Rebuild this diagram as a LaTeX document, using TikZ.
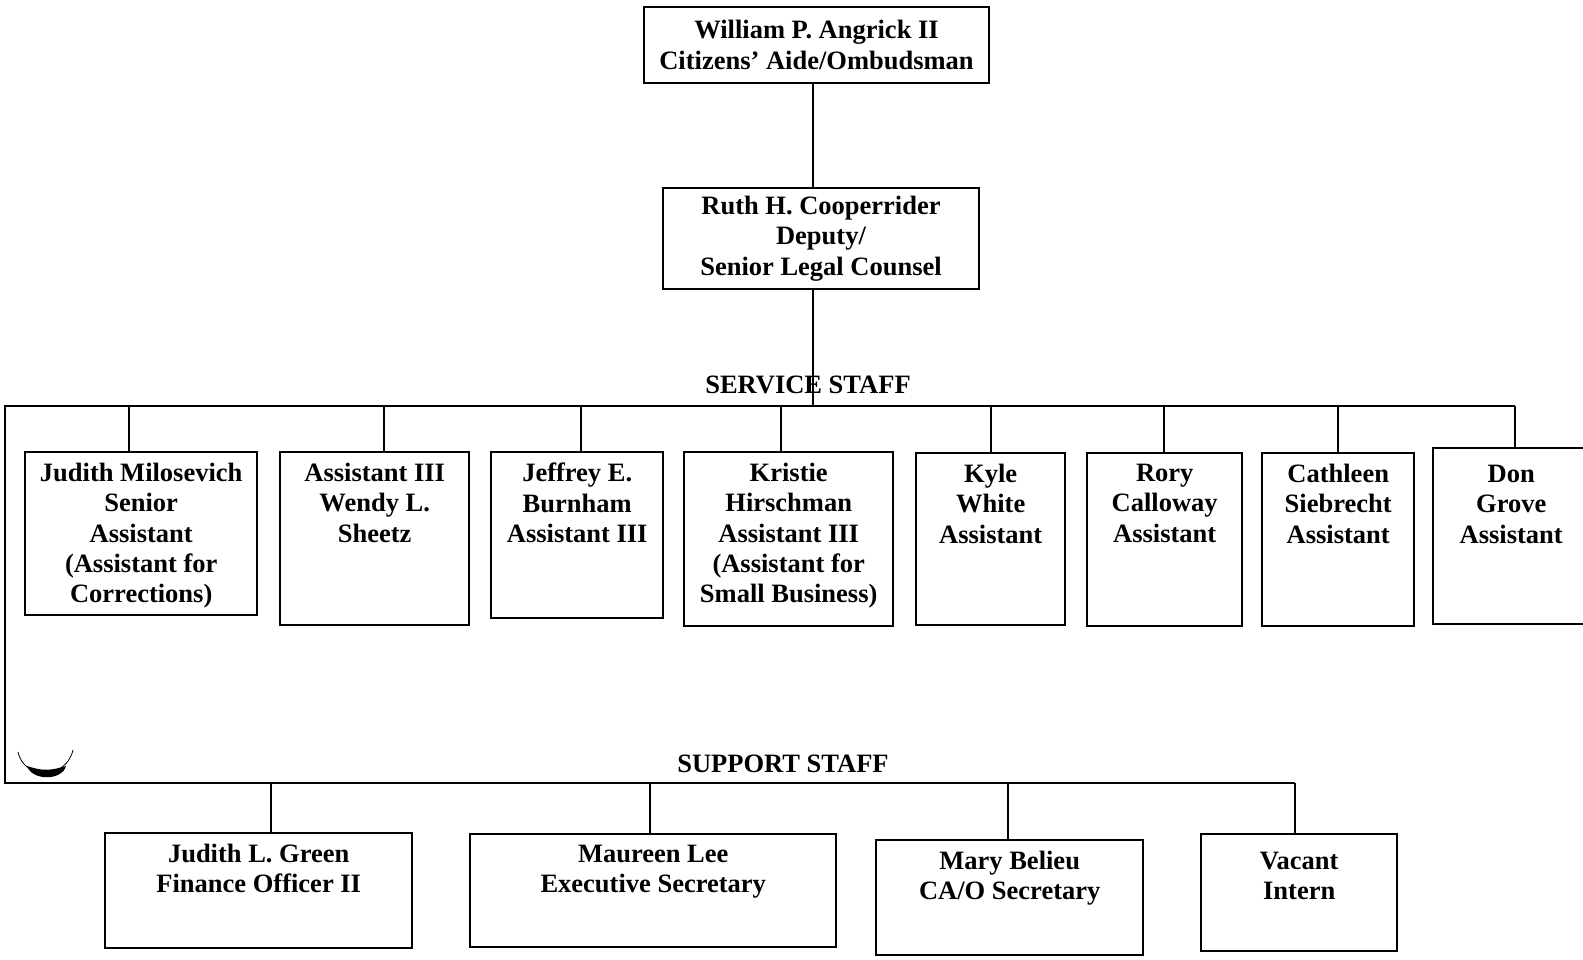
\documentclass[tikz,border=0pt]{standalone}
\usepackage{fontspec}
\setmainfont{Liberation Serif}
\usetikzlibrary{positioning}

\begin{document}
\begin{tikzpicture}[x=1pt, y=-1pt,
    staffbox/.style={draw, line width=2.4pt, inner sep=0pt, anchor=north west},
    stafftext/.style={font=\fontsize{26.5}{30.3}\selectfont\bfseries, align=center, inner sep=0pt},
    headbox/.style={draw, line width=2.4pt, inner sep=0pt, align=center,
                    font=\fontsize{26.5}{30.3}\selectfont\bfseries},
    grouptext/.style={font=\fontsize{26.5}{30.3}\selectfont\bfseries, inner sep=0pt},
    link/.style={line width=2pt}]

    \useasboundingbox (0,0) rectangle (1583,960);

    % head of office
    \node[headbox, minimum width=345, minimum height=76] (aide) at (816.5,45)
        {William P. Angrick II\\Citizens’ Aide/Ombudsman};
    \node[headbox, minimum width=316, minimum height=101] (deputy) at (821,238.5)
        {Ruth H. Cooperrider\\Deputy/\\Senior Legal Counsel};

    % group headings
    \node[grouptext] (svc) at (808,385) {SERVICE STAFF};
    \node[grouptext] (sup) at (783,764) {SUPPORT STAFF};

    % bus lines
    \coordinate (svcL) at (5,406);
    \coordinate (svcM) at (813,406);
    \coordinate (svcR) at (1515,406);
    \coordinate (supL) at (5,783);
    \coordinate (supR) at (1295,783);
    \draw[link] (aide.south -| svcM) -- (deputy.north -| svcM);
    \draw[link] (deputy.south -| svcM) -- (svcM);
    \draw[link] (svcR) -- (svcL) -- (supL) -- (supR);

    % service staff boxes
    \node[staffbox, minimum width=232, minimum height=163] (jm) at (24,451) {};
    \node[staffbox, minimum width=189, minimum height=173] (ws) at (279,451) {};
    \node[staffbox, minimum width=172, minimum height=166] (jb) at (490,451) {};
    \node[staffbox, minimum width=209, minimum height=174] (kh) at (683,451) {};
    \node[staffbox, minimum width=149, minimum height=172] (kw) at (915,452) {};
    \node[staffbox, minimum width=155, minimum height=173] (rc) at (1086,452) {};
    \node[staffbox, minimum width=152, minimum height=173] (cs) at (1261,452) {};
    \node[staffbox, minimum width=156, minimum height=176] (dg) at (1432,447) {};

    \node[stafftext, below=12pt of jm.north] (jmt)
        {Judith Milosevich\\Senior\\Assistant\\(Assistant for\\Corrections)};
    \node[stafftext, below=12pt of ws.north] (wst) {Assistant III\\Wendy L.\\Sheetz};
    \node[stafftext, below=12pt of jb.north] (jbt) {Jeffrey E.\\Burnham\\Assistant III};
    \node[stafftext, below=12pt of kh.north] (kht)
        {Kristie\\Hirschman\\Assistant III\\(Assistant for\\Small Business)};
    \node[stafftext, below=12pt of kw.north] (kwt) {Kyle\\White\\Assistant};
    \node[stafftext, below=12pt of rc.north] (rct) {Rory\\Calloway\\Assistant};
    \node[stafftext, below=12pt of cs.north] (cst) {Cathleen\\Siebrecht\\Assistant};
    \node[stafftext, below=18pt of dg.north] (dgt) {Don\\Grove\\Assistant};

    \foreach \b/\x in {jm/129, ws/384, jb/581, kh/781, kw/991, rc/1164, cs/1338, dg/1515} {
        \coordinate (d\b) at (\x,406);
        \draw[link] (d\b) -- (d\b |- \b.north);
    }

    % support staff boxes
    \node[staffbox, minimum width=307, minimum height=115] (jg) at (104,832) {};
    \node[staffbox, minimum width=366, minimum height=113] (ml) at (469,833) {};
    \node[staffbox, minimum width=267, minimum height=115] (mb) at (875,839) {};
    \node[staffbox, minimum width=196, minimum height=117] (vi) at (1200,833) {};

    \node[stafftext, below=12pt of jg.north] (jgt) {Judith L. Green\\Finance Officer II};
    \node[stafftext, below=12pt of ml.north] (mlt) {Maureen Lee\\Executive Secretary};
    \node[stafftext, below=12pt of mb.north] (mbt) {Mary Belieu\\CA/O Secretary};
    \node[stafftext, below=19pt of vi.north] (vit) {Vacant\\Intern};

    \foreach \b/\x in {jg/271, ml/650, mb/1008, vi/1295} {
        \coordinate (d\b) at (\x,783);
        \draw[link] (d\b) -- (d\b |- \b.north);
    }

    % smudge near the corner
    \draw[line width=0.8pt] (18,752) .. controls (24,780) and (66,780) .. (73,750);
    \fill (27,766) .. controls (32,781) and (62,781) .. (66,766)
        .. controls (50,771) and (42,771) .. (27,766) -- cycle;
\end{tikzpicture}
\end{document}
